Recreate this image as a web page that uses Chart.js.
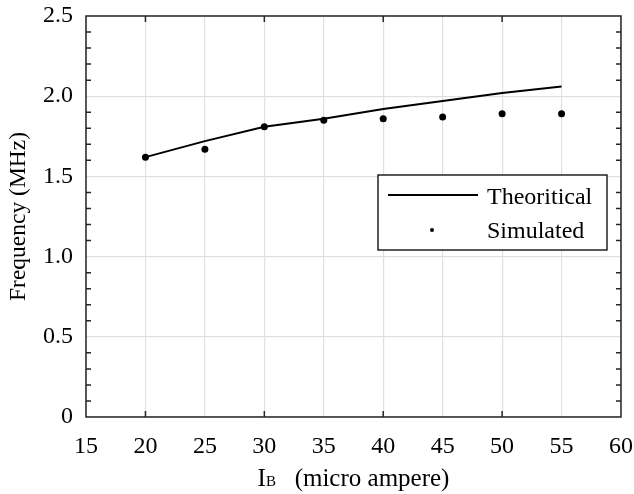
<!DOCTYPE html>
<html lang="en">
<head>
    <meta charset="UTF-8">
    <title>Frequency vs IB</title>
    <script src="https://cdn.jsdelivr.net/npm/chart.js"></script>
    <style>
        body { margin: 0; background: #fff; }
        #wrap { width: 634px; height: 494px; }
    </style>
</head>
<body>
    <div id="wrap">
        <canvas id="grafico" width="634" height="494"></canvas>
    </div>

    <script>
    // base current (micro ampere) and frequency (MHz)
    const ib = [20, 25, 30, 35, 40, 45, 50, 55];
    const theoretical = [1.62, 1.72, 1.81, 1.86, 1.92, 1.97, 2.02, 2.06];
    const simulated = [1.62, 1.67, 1.81, 1.85, 1.86, 1.87, 1.89, 1.89];

    const xMin = 15, xMax = 60, xStep = 5;
    const yMin = 0, yMax = 2.5, yStep = 0.5;
    const xMarks = [20, 30, 40, 50];
    const yMarks = [0.1, 0.2, 0.3, 0.4, 0.6, 0.7, 0.8, 0.9, 1.1, 1.2, 1.3, 1.4,
                    1.6, 1.7, 1.8, 1.9, 2.1, 2.2, 2.3, 2.4];

    const FONT = 'Liberation Serif, Times New Roman, serif';
    const AXIS = '#262626';

    // box, inward tick marks, titles and legend
    const frame = {
        id: 'frame',
        afterDraw(chart) {
            const ctx = chart.ctx;
            const a = chart.chartArea;
            const x = chart.scales.x, y = chart.scales.y;
            ctx.save();
            ctx.strokeStyle = AXIS;
            ctx.lineWidth = 1.5;
            ctx.beginPath();
            xMarks.forEach(v => {
                const px = x.getPixelForValue(v);
                ctx.moveTo(px, a.bottom); ctx.lineTo(px, a.bottom - 6);
                ctx.moveTo(px, a.top); ctx.lineTo(px, a.top + 6);
            });
            yMarks.forEach(v => {
                const py = y.getPixelForValue(v);
                ctx.moveTo(a.left, py); ctx.lineTo(a.left + 5, py);
                ctx.moveTo(a.right, py); ctx.lineTo(a.right - 5, py);
            });
            ctx.stroke();
            ctx.strokeRect(a.left, a.top, a.right - a.left, a.bottom - a.top);

            // axis titles
            ctx.fillStyle = '#000';
            ctx.textBaseline = 'alphabetic';
            const main = 'I', sub = 'B', rest = '   (micro ampere)';
            ctx.font = '25px ' + FONT;
            const w1 = ctx.measureText(main).width;
            const w3 = ctx.measureText(rest).width;
            ctx.font = '15px ' + FONT;
            const w2 = ctx.measureText(sub).width;
            let tx = (a.left + a.right) / 2 - (w1 + w2 + w3) / 2;
            const ty = 486;
            ctx.textAlign = 'left';
            ctx.font = '25px ' + FONT;
            ctx.fillText(main, tx, ty); tx += w1;
            ctx.font = '15px ' + FONT;
            ctx.fillText(sub, tx, ty); tx += w2;
            ctx.font = '25px ' + FONT;
            ctx.fillText(rest, tx, ty);

            ctx.save();
            ctx.translate(19, (a.top + a.bottom) / 2);
            ctx.rotate(-Math.PI / 2);
            ctx.font = '23.5px ' + FONT;
            ctx.textAlign = 'center';
            ctx.textBaseline = 'middle';
            ctx.fillText('Frequency (MHz)', 0, 0);
            ctx.restore();

            // legend
            const lx = 378, ly = 175, lw = 229, lh = 75;
            ctx.fillStyle = '#fff';
            ctx.fillRect(lx, ly, lw, lh);
            ctx.strokeStyle = '#000';
            ctx.lineWidth = 1.3;
            ctx.strokeRect(lx, ly, lw, lh);
            const ds = chart.data.datasets;
            ctx.lineWidth = ds[0].borderWidth;
            ctx.beginPath();
            ctx.moveTo(388, 195); ctx.lineTo(478, 195);
            ctx.stroke();
            ctx.fillStyle = '#000';
            ctx.beginPath();
            ctx.arc(432, 230, 2, 0, Math.PI * 2);
            ctx.fill();
            ctx.font = '24px ' + FONT;
            ctx.textAlign = 'left';
            ctx.textBaseline = 'alphabetic';
            ctx.fillText(ds[0].label, 487, 204);
            ctx.fillText(ds[1].label, 487, 238);
            ctx.restore();
        }
    };

    const ctx = document.getElementById('grafico').getContext('2d');
    new Chart(ctx, {
        type: 'scatter',
        data: {
            datasets: [
                {
                    label: 'Theoritical',
                    data: ib.map((v, i) => ({ x: v, y: theoretical[i] })),
                    showLine: true,
                    borderColor: '#000',
                    borderWidth: 2,
                    pointRadius: 0,
                    fill: false
                },
                {
                    label: 'Simulated',
                    data: ib.map((v, i) => ({ x: v, y: simulated[i] })),
                    showLine: false,
                    backgroundColor: '#000',
                    borderColor: '#000',
                    pointRadius: 3.5,
                    pointBorderWidth: 0
                }
            ]
        },
        options: {
            responsive: false,
            animation: false,
            layout: { padding: { left: 0, top: 16, right: 13, bottom: 0 } },
            plugins: {
                legend: { display: false },
                tooltip: { enabled: false }
            },
            scales: {
                x: {
                    type: 'linear',
                    min: xMin, max: xMax,
                    afterFit(s) { s.height = 77; s.paddingLeft = 0; s.paddingRight = 0; },
                    border: { display: false },
                    grid: { color: '#e0e0e0', lineWidth: 1.2, drawTicks: false },
                    ticks: {
                        stepSize: xStep,
                        padding: 15,
                        color: '#000',
                        font: { family: FONT, size: 24 },
                        maxRotation: 0
                    }
                },
                y: {
                    min: yMin, max: yMax,
                    afterFit(s) { s.width = 86; s.paddingTop = 0; s.paddingBottom = 0; },
                    border: { display: false },
                    grid: { color: '#e0e0e0', lineWidth: 1.2, drawTicks: false },
                    ticks: {
                        stepSize: yStep,
                        padding: 13,
                        color: '#000',
                        font: { family: FONT, size: 24 },
                        callback: v => v === 0 ? '0' : v.toFixed(1)
                    }
                }
            }
        },
        plugins: [frame]
    });
    </script>
</body>
</html>
